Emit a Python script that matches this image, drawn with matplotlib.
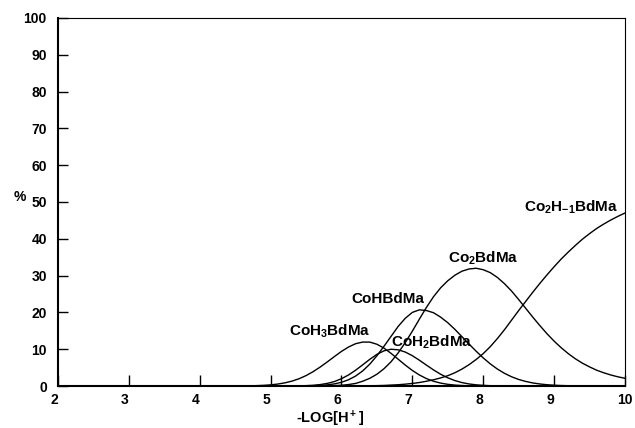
import matplotlib
matplotlib.use("Agg")
import matplotlib.pyplot as plt
import matplotlib.transforms as mtransforms

# -log[H+] grid: 2.0 then 4.5 .. 10.0 in 0.1 steps
ph = [2.0] + [round(4.5 + 0.1 * i, 1) for i in range(56)]

coh3 = [0,
        0.01, 0.03, 0.05, 0.1, 0.18,
        0.31, 0.53, 0.85, 1.32, 1.97, 2.83, 3.9, 5.16, 6.55, 8.0,
        9.4, 10.6, 11.5, 11.94, 11.93, 11.35, 10.3, 8.87, 7.28, 5.69,
        4.23, 2.99, 2.01, 1.29, 0.79, 0.46, 0.25, 0.13, 0.07, 0.03,
        0.01, 0, 0, 0, 0, 0, 0, 0, 0, 0,
        0, 0, 0, 0, 0, 0, 0, 0, 0, 0,
        0]
coh2 = [0,
        0, 0, 0, 0, 0,
        0, 0, 0.01, 0.02, 0.04, 0.1, 0.2, 0.39, 0.71, 1.22,
        1.98, 3.01, 4.3, 5.76, 7.26, 8.6, 9.56, 9.99, 9.84, 9.23,
        8.24, 7.0, 5.66, 4.36, 3.19, 2.23, 1.48, 0.93, 0.56, 0.32,
        0.18, 0.09, 0.05, 0.02, 0.01, 0, 0, 0, 0, 0,
        0, 0, 0, 0, 0, 0, 0, 0, 0, 0,
        0]
coh = [0,
       0, 0, 0, 0, 0,
       0, 0, 0, 0.01, 0.02, 0.04, 0.08, 0.16, 0.31, 0.58,
       1.01, 1.7, 2.71, 4.11, 5.95, 8.22, 10.8, 13.5, 16.2, 18.4,
       20.0, 20.7, 20.5, 19.9, 18.7, 17.2, 15.4, 13.4, 11.4, 9.46,
       7.64, 6.01, 4.61, 3.45, 2.51, 1.78, 1.24, 0.83, 0.55, 0.35,
       0.22, 0.13, 0.08, 0.05, 0.03, 0.01, 0, 0, 0, 0,
       0]
co2 = [0,
       0, 0, 0, 0, 0,
       0, 0, 0, 0, 0, 0.01, 0.02, 0.04, 0.07, 0.12,
       0.2, 0.4, 0.7, 1.3, 2.1, 3.2, 4.7, 6.6, 9.0, 11.8,
       14.9, 18.2, 21.4, 24.3, 26.7, 28.6, 30.1, 31.2, 31.8, 32.0,
       31.6, 30.8, 29.5, 27.8, 25.8, 23.5, 21.1, 18.7, 16.4, 14.2,
       12.2, 10.4, 8.8, 7.4, 6.2, 5.2, 4.3, 3.6, 3.0, 2.5,
       2.1]
co2hm1 = [0,
          0, 0, 0, 0, 0,
          0, 0, 0, 0, 0, 0, 0, 0, 0, 0,
          0.01, 0.02, 0.03, 0.05, 0.07, 0.1, 0.15, 0.25, 0.35, 0.5,
          0.7, 0.95, 1.3, 1.7, 2.2, 2.8, 3.6, 4.6, 5.8, 7.2,
          8.8, 10.7, 12.9, 15.3, 17.9, 20.5, 23.0, 25.5, 27.9, 30.2,
          32.4, 34.5, 36.4, 38.2, 39.9, 41.4, 42.8, 44.0, 45.1, 46.1,
          47.0]

series = [coh3, coh2, coh, co2, co2hm1]
labels = ["CoH$_3$BdMa", "CoH$_2$BdMa", "CoHBdMa", "Co$_2$BdMa",
          "Co$_2$H$_{-1}$BdMa"]
label_pos = [(5.83, 13.6), (7.28, 10.7), (6.65, 22.6), (8.0, 33.6), (9.24, 47.4)]

xticks = [2, 3, 4, 5, 6, 7, 8, 9, 10]
yticks = [0, 10, 20, 30, 40, 50, 60, 70, 80, 90, 100]

plt.rcParams["font.family"] = ["Liberation Sans", "DejaVu Sans"]
plt.rcParams["font.weight"] = "bold"
plt.rcParams["mathtext.fontset"] = "custom"
plt.rcParams["mathtext.rm"] = "Liberation Sans:bold"
plt.rcParams["mathtext.it"] = "Liberation Sans:bold"
plt.rcParams["mathtext.bf"] = "Liberation Sans:bold"

fig = plt.figure(figsize=(6.35, 4.28), dpi=100)
ax = fig.add_axes([0.0913, 0.0981, 0.8929, 0.8599])

for ys in series:
    ax.plot(ph, ys, color="black", lw=1.0)

for txt, (x, y) in zip(labels, label_pos):
    ax.text(x, y, txt, ha="center", va="baseline", fontsize=11,
            fontweight="bold")

ax.set_xlim(2, 10)
ax.set_ylim(0, 100)
ax.set_xticks(xticks)
ax.set_yticks(yticks)
ax.tick_params(axis="x", direction="in", length=8, width=1.0, pad=5,
               labelsize=10)
ax.tick_params(axis="y", direction="in", length=7, width=1.0, pad=8,
               labelsize=10)
for lab in ax.get_xticklabels() + ax.get_yticklabels():
    lab.set_fontweight("bold")

# single-digit x labels sit a little left of their ticks
shift = mtransforms.ScaledTranslation(-0.04, 0, fig.dpi_scale_trans)
for lab in ax.get_xticklabels()[:-1]:
    lab.set_transform(lab.get_transform() + shift)

ax.spines["left"].set_linewidth(1.5)
ax.spines["bottom"].set_linewidth(1.5)
ax.spines["top"].set_linewidth(0.8)
ax.spines["right"].set_linewidth(0.8)

ax.set_xlabel("-LOG[H$^+$]", fontsize=10.5, fontweight="bold", va="center")
ax.xaxis.set_label_coords(0.48, -0.088)
ax.set_ylabel("%", rotation=0, fontsize=10, fontweight="bold")
ax.yaxis.set_label_coords(-0.068, 0.495)

fig.savefig("out.png", dpi=100)
